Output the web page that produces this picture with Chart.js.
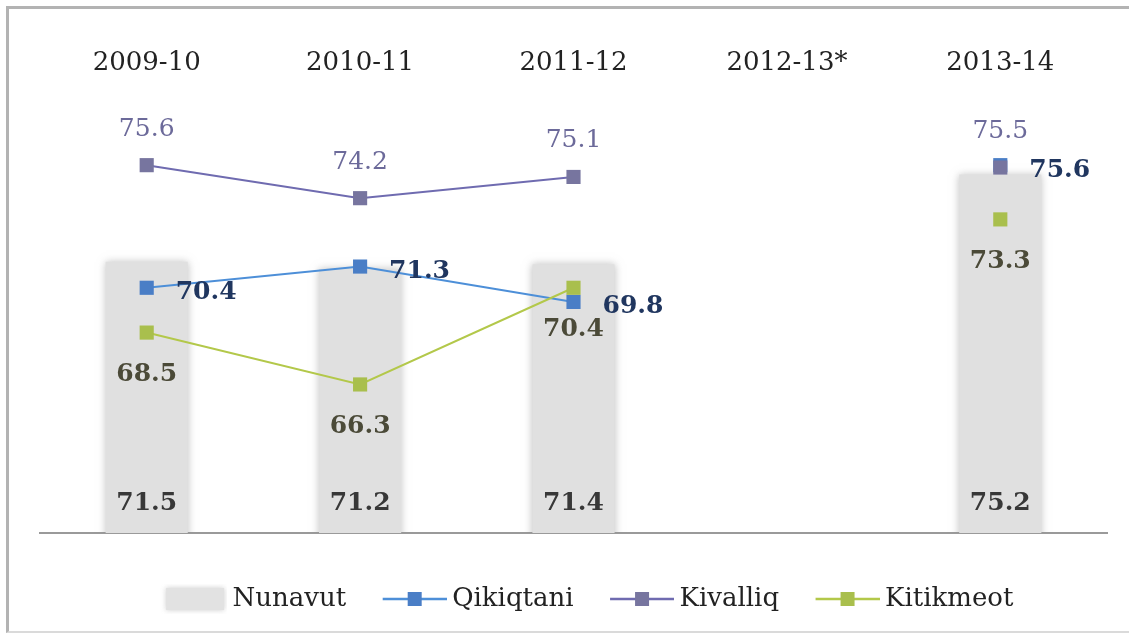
<!DOCTYPE html>
<html>
<head>
<meta charset="utf-8">
<script src="https://cdn.jsdelivr.net/npm/chart.js@4.4.0/dist/chart.umd.min.js"></script>
<style>
  html, body { margin: 0; padding: 0; background: #fff; }
  #marco {
    position: absolute; left: 6px; top: 6px; width: 1140px; height: 622px;
    border-top: 3px solid #b3b3b3; border-left: 3px solid #b3b3b3; border-bottom: 2px solid #dadada;
  }
  #contenedor { position: absolute; left: 0; top: 0; width: 1129px; height: 636px; }
</style>
</head>
<body>
<div id="marco"></div>
<div id="contenedor"><canvas id="grafico"></canvas></div>
<script>
// Datos
const periodos = ["2009-10", "2010-11", "2011-12", "2012-13*", "2013-14"];
const nunavut = [71.5, 71.2, 71.4, null, 75.2];
const qikiqtani = [70.4, 71.3, 69.8, null, 75.6];
const kivalliq = [75.6, 74.2, 75.1, null, 75.5];
const kitikmeot = [68.5, 66.3, 70.4, null, 73.3];

const fuente = "'DejaVu Serif', serif";

// Estilo de las etiquetas de cada serie
const estilosEtiqueta = [
  { base: true, dx: 0, dy: -30, peso: "bold", tam: 25, color: "#383838", align: "center" },
  { base: false, dx: 29, dy: 5, peso: "bold", tam: 25, color: "#20365f", align: "left" },
  { base: false, dx: 0, dy: -36, peso: "normal", tam: 25, color: "#6c6a9a", align: "center" },
  { base: false, dx: 0, dy: 42, peso: "bold", tam: 25, color: "#4b4a38", align: "center" },
];

// Simbolos de la leyenda (imagen con margen transparente a la izquierda)
function simboloLinea(colorLinea, colorMarca) {
  const c = document.createElement("canvas");
  c.width = 101;
  c.height = 20;
  const g = c.getContext("2d");
  g.strokeStyle = colorLinea;
  g.lineWidth = 2.5;
  g.beginPath();
  g.moveTo(37, 10);
  g.lineTo(101, 10);
  g.stroke();
  g.fillStyle = colorMarca;
  g.fillRect(62, 3, 14, 14);
  return c;
}
function simboloBarra() {
  const c = document.createElement("canvas");
  c.width = 101;
  c.height = 30;
  const g = c.getContext("2d");
  g.shadowColor = "rgba(170,170,170,0.6)";
  g.shadowBlur = 5;
  g.fillStyle = "#e2e2e2";
  g.fillRect(40, 4, 58, 22);
  return c;
}

const etiquetasPlugin = {
  id: "etiquetas",
  beforeDatasetDraw(chart, args) {
    if (args.index === 0) {
      chart.ctx.save();
      chart.ctx.shadowColor = "rgba(140,140,140,0.55)";
      chart.ctx.shadowBlur = 8;
    }
  },
  afterDatasetDraw(chart, args) {
    if (args.index === 0) chart.ctx.restore();
  },
  afterDatasetsDraw(chart) {
    const ctx = chart.ctx;
    chart.data.datasets.forEach((ds, i) => {
      const meta = chart.getDatasetMeta(i);
      const est = estilosEtiqueta[i];
      meta.data.forEach((el, j) => {
        const v = ds.data[j];
        if (v === null || v === undefined) return;
        const x = el.x + est.dx;
        const y = est.base ? chart.chartArea.bottom + est.dy : el.y + est.dy;
        ctx.save();
        ctx.font = est.peso + " " + est.tam + "px " + fuente;
        ctx.fillStyle = est.color;
        ctx.textAlign = est.align;
        ctx.textBaseline = "middle";
        ctx.fillText(v.toFixed(1), x, y);
        ctx.restore();
      });
    });
  },
};

const ctx = document.getElementById("grafico");

window.grafico = new Chart(ctx, {
  data: {
    labels: periodos,
    datasets: [
      {
        type: "bar",
        label: "Nunavut",
        data: nunavut,
        backgroundColor: "#e0e0e0",
        barPercentage: 0.385,
        categoryPercentage: 1,
        order: 4,
        simbolo: simboloBarra(),
      },
      {
        type: "line",
        label: "Qikiqtani",
        data: qikiqtani,
        borderColor: "#4d8fd8",
        backgroundColor: "#4a7ec6",
        borderWidth: 2,
        pointStyle: "rect",
        pointRadius: 10,
        pointBorderWidth: 0,
        order: 3,
        simbolo: simboloLinea("#4d8fd8", "#4a7ec6"),
      },
      {
        type: "line",
        label: "Kivalliq",
        data: kivalliq,
        borderColor: "#6f6bb0",
        backgroundColor: "#77759f",
        borderWidth: 2,
        pointStyle: "rect",
        pointRadius: 10,
        pointBorderWidth: 0,
        order: 2,
        simbolo: simboloLinea("#6f6bb0", "#77759f"),
      },
      {
        type: "line",
        label: "Kitikmeot",
        data: kitikmeot,
        borderColor: "#b3c84a",
        backgroundColor: "#a9bf4d",
        borderWidth: 2,
        pointStyle: "rect",
        pointRadius: 10,
        pointBorderWidth: 0,
        order: 1,
        simbolo: simboloLinea("#b3c84a", "#a9bf4d"),
      },
    ],
  },
  options: {
    responsive: true,
    maintainAspectRatio: false,
    animation: false,
    layout: { padding: { left: 40, right: 22, top: 0, bottom: 14 } },
    scales: {
      x: {
        position: "top",
        grid: { display: false, drawTicks: false },
        border: { display: false },
        ticks: { color: "#222", font: { family: fuente, size: 26 }, padding: 6, maxRotation: 0 },
        afterFit: (s) => { s.height = 85; },
      },
      xb: {
        type: "category",
        position: "bottom",
        grid: { display: false, drawTicks: false },
        border: { display: true, color: "#9a9a9a", width: 2 },
        ticks: { display: false },
        afterFit: (s) => { s.height = 46; },
      },
      y: {
        display: false,
        min: 60,
        max: 79,
      },
    },
    plugins: {
      tooltip: { enabled: false },
      legend: {
        position: "bottom",
        labels: {
          usePointStyle: true,
          pointStyleWidth: 86,
          padding: 7,
          color: "#222",
          font: { family: fuente, size: 26 },
          generateLabels: (chart) =>
            chart.data.datasets.map((ds, i) => ({
              text: ds.label,
              pointStyle: ds.simbolo,
              fillStyle: "transparent",
              strokeStyle: "transparent",
              lineWidth: 0,
              fontColor: "#222",
              hidden: false,
              datasetIndex: i,
            })),
        },
      },
    },
  },
  plugins: [etiquetasPlugin],
});
</script>
</body>
</html>
